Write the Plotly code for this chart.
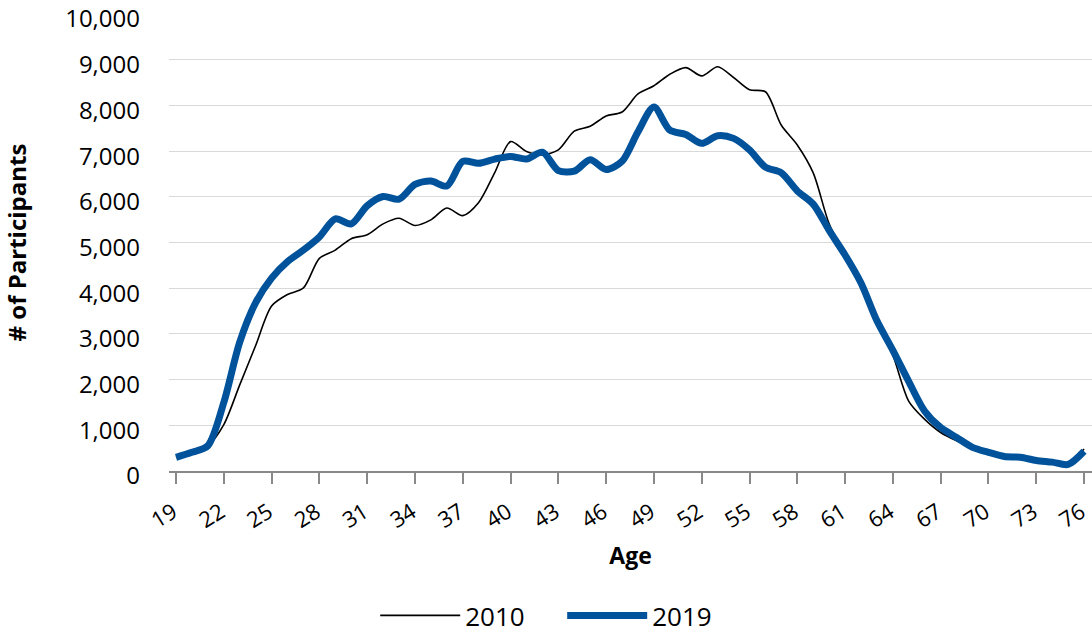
import plotly.graph_objects as go

ages = list(range(19, 77))

p2010 = [300, 410, 550, 1015, 1885, 2748, 3611, 3863, 4006, 4654,
         4835, 5085, 5172, 5409, 5532, 5374, 5496, 5755, 5590, 5877,
         6525, 7209, 6993, 6920, 7028, 7438, 7546, 7770, 7857, 8252,
         8431, 8683, 8828, 8647, 8849, 8612, 8345, 8300, 7567, 7136,
         6525, 5409, 4727, 4114, 3287, 2532, 1524, 1129, 842, 661,
         518, 410, 316, 302, 230, 194, 143, 481]

p2019 = [300, 410, 553, 1500, 2820, 3683, 4222, 4582, 4835, 5122,
         5517, 5409, 5806, 6007, 5949, 6273, 6345, 6238, 6777, 6735,
         6827, 6885, 6827, 6978, 6575, 6561, 6813, 6597, 6777, 7425,
         7964, 7460, 7367, 7172, 7338, 7280, 7028, 6650, 6525, 6130,
         5841, 5266, 4727, 4114, 3287, 2640, 1956, 1308, 950, 734,
         518, 410, 316, 302, 230, 194, 143, 432]

xtick_vals = list(range(19, 77, 3))
ytick_vals = list(range(0, 10001, 1000))

FONT = "Open Sans"

fig = go.Figure()
fig.add_trace(go.Scatter(x=ages, y=p2010, name="2010", mode="lines",
                         line=dict(color="#000000", width=1.6, shape="spline", smoothing=0.8)))
fig.add_trace(go.Scatter(x=ages, y=p2019, name="2019", mode="lines",
                         line=dict(color="#00529B", width=7, shape="spline", smoothing=0.8)))

fig.update_layout(
    width=1092, height=639,
    margin=dict(l=169, r=0, t=14, b=162),
    paper_bgcolor="white", plot_bgcolor="white",
    font=dict(family=FONT, size=24, color="#000000"),
    showlegend=True,
    legend=dict(orientation="h", x=0.426, xanchor="center", y=-0.317, yanchor="middle",
                font=dict(size=26), itemwidth=80, traceorder="normal",
                entrywidth=92, entrywidthmode="pixels"),
)

fig.update_xaxes(
    range=[18.56, 76.5],
    tickmode="array", tickvals=xtick_vals, ticktext=[str(v) for v in xtick_vals],
    tickangle=-32,
    ticks="outside", ticklen=11, tickcolor="#898989", tickwidth=1.5,
    showline=True, linecolor="#898989", linewidth=1.5,
    showgrid=False, zeroline=False,
    tickfont=dict(size=22),
    ticklabelshift=-3,
    ticklabelstandoff=7,
    ticklabeloverflow="allow",
    automargin=False,
    title=dict(text="<b>Age</b>", font=dict(size=23), standoff=15),
)

fig.update_yaxes(
    range=[0, 10002],
    tickmode="array", tickvals=ytick_vals,
    ticktext=[f"{v:,}" for v in ytick_vals],
    showgrid=True, gridcolor="#D9D9D9", gridwidth=1.3,
    zeroline=False, showline=False, ticks="",
    ticklabelstandoff=28,
    ticklabelshift=5,
    tickfont=dict(size=24),
    ticklabeloverflow="allow",
    automargin=False,
    title=dict(text="<b># of Participants</b>", font=dict(size=24), standoff=40),
)

fig.write_html("out.html",
               config={"displayModeBar": False},
               post_script="document.body.style.margin='0';document.body.style.padding='0';")
